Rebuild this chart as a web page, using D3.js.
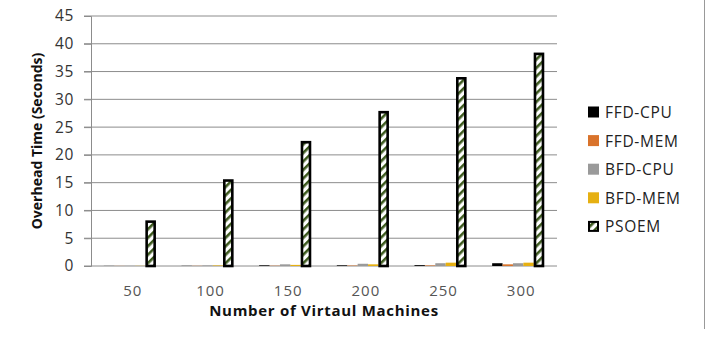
<!DOCTYPE html>
<html><head><meta charset="utf-8">
<script src="https://cdn.jsdelivr.net/npm/d3@7"></script>
<style>body{margin:0;background:#fff}svg{display:block}</style>
</head><body><svg id="c" width="713" height="338"></svg>
<script>
const categories = ["50","100","150","200","250","300"];
const seriesNames = ["FFD-CPU","FFD-MEM","BFD-CPU","BFD-MEM","PSOEM"];
const ffdCpu = [0.02,0.03,0.12,0.12,0.15,0.5];
const ffdMem = [0.02,0.03,0.05,0.08,0.1,0.3];
const bfdCpu = [0.03,0.1,0.3,0.4,0.5,0.5];
const bfdMem = [0.03,0.1,0.2,0.3,0.6,0.6];
const psoem = [8.2,15.6,22.5,27.9,34.0,38.4];
const yTicks = [0,5,10,15,20,25,30,35,40,45];
const colors = ["#000000","#d9732b","#9a9a9a","#e6b012","pattern"];

const allSeries = [ffdCpu,ffdMem,bfdCpu,bfdMem,psoem];
const svg = d3.select("#c");
const font = "'Open Sans', sans-serif";
const m = {l:91, r:557, t:16, b:266};

const defs = svg.append("defs");
const pat = defs.append("pattern").attr("id","hatch").attr("patternUnits","userSpaceOnUse")
  .attr("width",6).attr("height",6).attr("patternTransform","rotate(-45)");
pat.append("rect").attr("width",6).attr("height",6).attr("fill","#fff");
pat.append("rect").attr("width",6).attr("height",2.6).attr("fill","#3d5a1e");

const x0 = d3.scaleBand().domain(categories).range([m.l,m.r]).paddingInner(0.33).paddingOuter(0.165);
const x1 = d3.scaleBand().domain(seriesNames).range([0,x0.bandwidth()]).padding(0);
const y = d3.scaleLinear().domain([0,45]).range([m.b,m.t]);

// gridlines
svg.append("g").selectAll("line").data(yTicks.filter(d=>d>0)).join("line")
  .attr("x1",84).attr("x2",m.r).attr("y1",d=>y(d)).attr("y2",d=>y(d))
  .attr("stroke","#8c8c8c").attr("stroke-width",1);

// y axis
const ya = svg.append("g").attr("transform",`translate(${m.l},0)`)
  .call(d3.axisLeft(y).tickValues(yTicks).tickSize(7).tickPadding(10));
ya.select(".domain").attr("stroke","#8c8c8c");
ya.selectAll(".tick line").attr("stroke","#8c8c8c");
ya.selectAll("text").attr("font-family",font).attr("font-size",15.5).attr("fill","#333")
  .attr("letter-spacing",0.6);

// x axis
const xa = svg.append("g").attr("transform",`translate(0,${m.b})`)
  .call(d3.axisBottom(x0).tickSize(0).tickPadding(19));
xa.select(".domain").attr("stroke","#8c8c8c").attr("d",`M84,0H${m.r}`);
xa.selectAll(".tick text").attr("font-family",font).attr("font-size",15).attr("fill","#555")
  .attr("letter-spacing",1).attr("dx",3);

// bars
const groups = svg.append("g").selectAll("g").data(categories).join("g")
  .attr("transform",d=>`translate(${x0(d)},0)`);
groups.selectAll("rect").data((d,i)=>seriesNames.map((s,j)=>({s,j,v:allSeries[j][i]}))).join("rect")
  .attr("x",d=>x1(d.s)+(d.j===4?1.2:0))
  .attr("width",d=>x1.bandwidth()-(d.j===4?2.4:0))
  .attr("y",d=>y(d.v)+(d.j===4?1.2:0))
  .attr("height",d=>Math.max(0,y(0)-y(d.v)-(d.j===4?1.2:0)))
  .attr("fill",d=>d.j===4?"url(#hatch)":colors[d.j])
  .attr("stroke",d=>d.j===4?"#000":"none")
  .attr("stroke-width",2.6);

// axis titles
svg.append("text").attr("transform","translate(42,141) rotate(-90)")
  .attr("text-anchor","middle").attr("font-family",font).attr("font-weight","bold")
  .attr("font-size",14).attr("fill","#111").text("Overhead Time (Seconds)");
svg.append("text").attr("x",324).attr("y",316).attr("text-anchor","middle")
  .attr("font-family",font).attr("font-weight","bold").attr("font-size",15)
  .attr("letter-spacing",0.7)
  .attr("fill","#111").text("Number of Virtaul Machines");

// legend
const lg = svg.append("g").selectAll("g").data(seriesNames).join("g")
  .attr("transform",(d,i)=>`translate(588,${112+i*28.6})`);
lg.append("rect").attr("x",d=>d==="PSOEM"?1:0).attr("y",d=>d==="PSOEM"?-4.5:-5.5)
  .attr("width",d=>d==="PSOEM"?9:11).attr("height",d=>d==="PSOEM"?9:11)
  .attr("fill",(d,i)=>i===4?"url(#hatch)":colors[i])
  .attr("stroke",(d,i)=>i===4?"#000":"none").attr("stroke-width",2);
lg.append("text").attr("x",17).attr("y",6).attr("font-family",font).attr("font-size",15.5)
  .attr("letter-spacing",0.7)
  .attr("fill","#222").text(d=>d);

// right frame line
svg.append("line").attr("x1",704.5).attr("x2",704.5).attr("y1",0).attr("y2",329)
  .attr("stroke","#999").attr("stroke-width",1);
</script></body></html>
